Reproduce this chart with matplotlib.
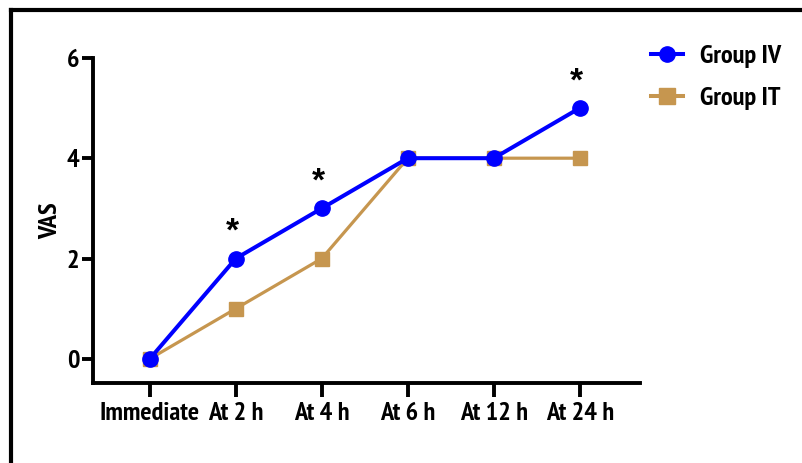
import matplotlib.pyplot as plt
from matplotlib.lines import Line2D

plt.rcParams['font.family'] = ['PT Sans Narrow', 'Liberation Sans', 'DejaVu Sans']
plt.rcParams['font.weight'] = 'bold'

# data
timepoints = ['Immediate', 'At 2 h', 'At 4 h', 'At 6 h', 'At 12 h', 'At 24 h']
group_iv = [0, 2, 3, 4, 4, 5]
group_it = [0, 1, 2, 4, 4, 4]
significant = [False, True, True, False, False, True]

x = list(range(len(timepoints)))

fig = plt.figure(figsize=(8.02, 4.63), dpi=100)
ax = fig.add_axes([0.116, 0.173, 0.682, 0.702])

ax.plot(x, group_it, color='#C6964F', linewidth=2.3, marker='s', markersize=10.5,
        label='Group IT', zorder=3)
ax.plot(x, group_iv, color='#0000FF', linewidth=2.9, marker='o', markersize=11,
        label='Group IV', zorder=4)

# asterisks above significant points
for xi, yi, sig in zip(x, group_iv, significant):
    if sig:
        ax.text(xi - 0.04, yi + 0.52, '*', ha='center', va='center',
                fontsize=24, fontweight='bold', family='Liberation Sans')

ax.set_xlim(-0.66, 5.7)
ax.set_ylim(-0.48, 6)
ax.set_yticks([0, 2, 4, 6])
ax.set_xticks(x)
ax.set_xticklabels(timepoints)
ax.set_ylabel('VAS', fontsize=19, fontweight='bold', labelpad=3)

for side in ['top', 'right']:
    ax.spines[side].set_visible(False)
for side in ['left', 'bottom']:
    ax.spines[side].set_linewidth(2.8)
ax.tick_params(axis='both', width=2.8, labelsize=19)
ax.tick_params(axis='y', length=8, pad=2)
ax.tick_params(axis='x', length=10, pad=4)

handles = [
    Line2D([], [], color='#0000FF', linewidth=2.9, marker='o', markersize=11),
    Line2D([], [], color='#C6964F', linewidth=2.9, marker='s', markersize=11),
]
fig.legend(handles, ['Group IV', 'Group IT'], loc='upper left',
           bbox_to_anchor=(0.782, 0.955), frameon=False, fontsize=19,
           handlelength=1.2, labelspacing=0.69, handletextpad=0.65)

# black frame along the top and left edge
fig.add_artist(Line2D([0.0137, 1.0], [0.978, 0.978], transform=fig.transFigure,
                      color='black', linewidth=3))
fig.add_artist(Line2D([0.0137, 0.0137], [0.0, 0.978], transform=fig.transFigure,
                      color='black', linewidth=3))

fig.savefig('out.png', dpi=100)
